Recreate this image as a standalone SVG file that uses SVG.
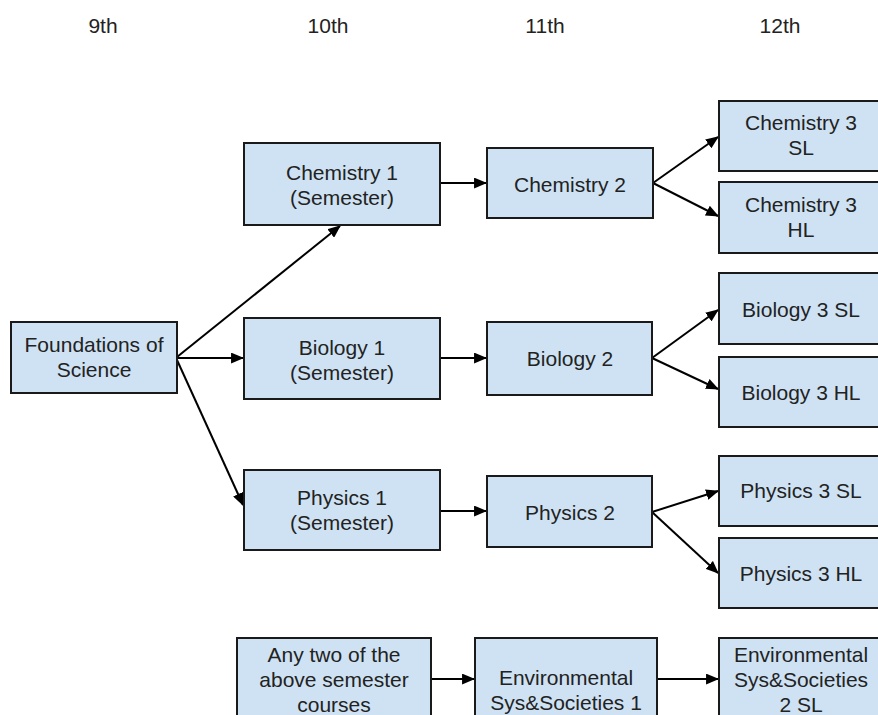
<svg xmlns="http://www.w3.org/2000/svg" width="878" height="715" viewBox="0 0 878 715">
<style>
.n rect{fill:#cfe2f3;stroke:#1a1a1a;stroke-width:2}
text{font-family:"Liberation Sans",Arial,sans-serif;font-size:21px;fill:#222;text-anchor:middle}
.c line{stroke:#000;stroke-width:2;marker-end:url(#a)}
</style>
<defs>
<marker id="a" viewBox="0 0 12 10" refX="11" refY="5" markerWidth="13" markerHeight="11" markerUnits="userSpaceOnUse" orient="auto"><path d="M0,0L12,5L0,10z" fill="#000"/></marker>
</defs>
<rect width="878" height="715" fill="#fff"/>
<g id="headers">
<text x="103" y="33">9th</text>
<text x="328" y="33">10th</text>
<text x="545" y="33">11th</text>
<text x="780" y="33">12th</text>
</g>
<g class="c" id="connectors">
<line x1="177" y1="357" x2="340" y2="226"/>
<line x1="177" y1="358" x2="243" y2="358"/>
<line x1="177" y1="360" x2="243" y2="505"/>
<line x1="440" y1="183" x2="486" y2="183"/>
<line x1="440" y1="358" x2="486" y2="358"/>
<line x1="440" y1="511" x2="486" y2="511"/>
<line x1="653" y1="183" x2="718" y2="137"/>
<line x1="653" y1="183" x2="718" y2="216"/>
<line x1="652" y1="358" x2="718" y2="310"/>
<line x1="652" y1="358" x2="718" y2="389"/>
<line x1="652" y1="512" x2="718" y2="491"/>
<line x1="652" y1="512" x2="718" y2="573"/>
<line x1="431" y1="679" x2="474" y2="679"/>
<line x1="657" y1="679" x2="718" y2="679"/>
</g>
<g class="n" id="foundations"><rect x="11" y="322" width="166" height="71"/><text x="94" y="352">Foundations of</text><text x="94" y="377">Science</text></g>
<g class="n" id="chem1"><rect x="244" y="143" width="196" height="82"/><text x="342" y="180">Chemistry 1</text><text x="342" y="205">(Semester)</text></g>
<g class="n" id="chem2"><rect x="487" y="148" width="166" height="70"/><text x="570" y="192">Chemistry 2</text></g>
<g class="n" id="chem3sl"><rect x="719" y="101" width="170" height="70"/><text x="801" y="130">Chemistry 3</text><text x="801" y="155">SL</text></g>
<g class="n" id="chem3hl"><rect x="719" y="182" width="170" height="71"/><text x="801" y="212">Chemistry 3</text><text x="801" y="237">HL</text></g>
<g class="n" id="bio1"><rect x="244" y="318" width="196" height="81"/><text x="342" y="355">Biology 1</text><text x="342" y="380">(Semester)</text></g>
<g class="n" id="bio2"><rect x="487" y="322" width="165" height="73"/><text x="570" y="366">Biology 2</text></g>
<g class="n" id="bio3sl"><rect x="719" y="273" width="170" height="71"/><text x="801" y="317">Biology 3 SL</text></g>
<g class="n" id="bio3hl"><rect x="719" y="357" width="170" height="70"/><text x="801" y="400">Biology 3 HL</text></g>
<g class="n" id="phys1"><rect x="244" y="470" width="196" height="80"/><text x="342" y="505">Physics 1</text><text x="342" y="530">(Semester)</text></g>
<g class="n" id="phys2"><rect x="487" y="476" width="165" height="71"/><text x="570" y="520">Physics 2</text></g>
<g class="n" id="phys3sl"><rect x="719" y="456" width="170" height="70"/><text x="801" y="498">Physics 3 SL</text></g>
<g class="n" id="phys3hl"><rect x="719" y="538" width="170" height="70"/><text x="801" y="581">Physics 3 HL</text></g>
<g class="n" id="anytwo"><rect x="237" y="638" width="194" height="90"/><text x="334" y="662">Any two of the</text><text x="334" y="687">above semester</text><text x="334" y="712">courses</text></g>
<g class="n" id="env1"><rect x="475" y="638" width="182" height="90"/><text x="566" y="685">Environmental</text><text x="566" y="710">Sys&amp;Societies 1</text></g>
<g class="n" id="env2"><rect x="719" y="638" width="170" height="90"/><text x="801" y="662">Environmental</text><text x="801" y="687">Sys&amp;Societies</text><text x="801" y="712">2 SL</text></g>
</svg>
